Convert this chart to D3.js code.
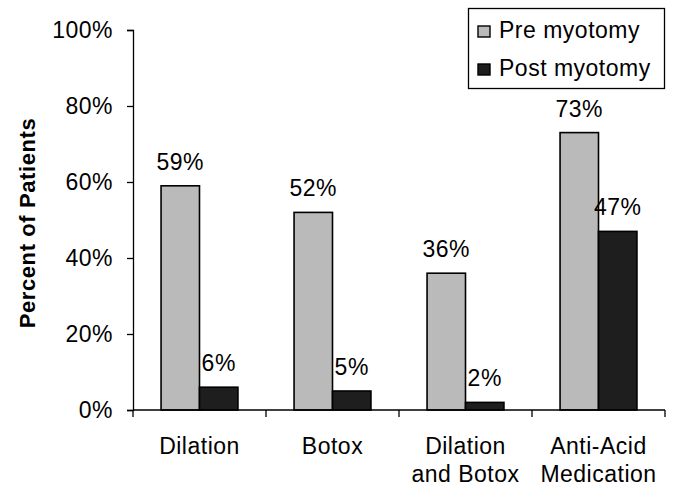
<!DOCTYPE html>
<html>
<head>
<meta charset="utf-8">
<script src="https://cdn.jsdelivr.net/npm/d3@7"></script>
<style>
  html, body { margin: 0; padding: 0; background: #fff; }
  svg { display: block; font-family: "Liberation Sans", Arial, sans-serif; }
  text { letter-spacing: 0.5px; }
</style>
</head>
<body>
<svg id="chart" width="673" height="489"></svg>
<script>
// Treatments (category labels, split into lines)
const categories = [
  ["Dilation"],
  ["Botox"],
  ["Dilation", "and Botox"],
  ["Anti-Acid", "Medication"]
];
const seriesNames = ["Pre myotomy", "Post myotomy"];
const preValues = [59, 52, 36, 73];
const postValues = [6, 5, 2, 47];
const yTicks = [0, 20, 40, 60, 80, 100];

const svg = d3.select("#chart");
const plot = { left: 133, right: 665, top: 30, bottom: 410 };
const colors = ["#bababa", "#1e1e1e"];
const fontSize = 23;

const x0 = d3.scaleBand()
  .domain(d3.range(categories.length))
  .range([plot.left, plot.right])
  .paddingInner(0)
  .paddingOuter(0);

const x1 = d3.scaleBand()
  .domain([0, 1])
  .range([0, x0.bandwidth()])
  .paddingInner(0)
  .paddingOuter(0.73);

const y = d3.scaleLinear().domain([0, 100]).range([plot.bottom, plot.top]);

// Y axis
const yAxis = svg.append("g")
  .attr("transform", `translate(${plot.left},0)`)
  .call(d3.axisLeft(y).tickValues(yTicks).tickFormat(d => d + "%").tickSize(6).tickPadding(14));
yAxis.select(".domain").attr("stroke", "#000").attr("stroke-width", 1.3);
yAxis.selectAll(".tick line").attr("stroke", "#000").attr("stroke-width", 1.3);
yAxis.selectAll(".tick text").attr("font-size", fontSize).attr("fill", "#000")
  .attr("font-family", "Liberation Sans, Arial, sans-serif");

// Y axis title
svg.append("text")
  .attr("transform", `translate(27,${(plot.top + plot.bottom) / 2 + 3}) rotate(-90)`)
  .attr("text-anchor", "middle")
  .attr("dominant-baseline", "central")
  .attr("font-size", 22)
  .attr("font-weight", "bold")
  .style("letter-spacing", "0.6px")
  .text("Percent of Patients");

// Bars
const groups = svg.append("g").selectAll("g")
  .data(categories.map((c, i) => ({ i, vals: [preValues[i], postValues[i]] })))
  .join("g")
  .attr("transform", d => `translate(${x0(d.i)},0)`);

groups.selectAll("rect")
  .data(d => d.vals.map((v, s) => ({ v, s })))
  .join("rect")
  .attr("x", d => x1(d.s))
  .attr("y", d => y(d.v))
  .attr("width", x1.bandwidth())
  .attr("height", d => y(0) - y(d.v))
  .attr("fill", d => colors[d.s])
  .attr("stroke", "#000")
  .attr("stroke-width", 1.6);

groups.selectAll("text.val")
  .data(d => d.vals.map((v, s) => ({ v, s })))
  .join("text")
  .attr("class", "val")
  .attr("x", d => x1(d.s) + x1.bandwidth() / 2)
  .attr("y", d => y(d.v) - 16)
  .attr("text-anchor", "middle")
  .attr("font-size", fontSize)
  .text(d => d.v + "%");

// X axis
const xAxisG = svg.append("g");
xAxisG.append("line")
  .attr("x1", plot.left).attr("x2", plot.right)
  .attr("y1", y(0)).attr("y2", y(0))
  .attr("stroke", "#000").attr("stroke-width", 1.3);
xAxisG.selectAll("line.tick")
  .data(d3.range(categories.length + 1))
  .join("line")
  .attr("class", "tick")
  .attr("x1", i => i < categories.length ? x0(i) : plot.right)
  .attr("x2", i => i < categories.length ? x0(i) : plot.right)
  .attr("y1", y(0)).attr("y2", y(0) + 7)
  .attr("stroke", "#000").attr("stroke-width", 1.3);

const catLabels = xAxisG.selectAll("text.cat")
  .data(categories.map((c, i) => ({ c, i })))
  .join("text")
  .attr("class", "cat")
  .attr("text-anchor", "middle")
  .attr("font-size", fontSize);
catLabels.selectAll("tspan")
  .data(d => d.c.map((line, k) => ({ line, k, i: d.i })))
  .join("tspan")
  .attr("x", d => x0(d.i) + x0.bandwidth() / 2)
  .attr("y", d => 454 + d.k * 28)
  .text(d => d.line);

// Legend
const legend = svg.append("g");
legend.append("rect")
  .attr("x", 468.5).attr("y", 8.5).attr("width", 196).attr("height", 80)
  .attr("fill", "#fff").attr("stroke", "#000").attr("stroke-width", 1.3);
const items = legend.selectAll("g.item")
  .data(seriesNames)
  .join("g")
  .attr("class", "item")
  .attr("transform", (d, i) => `translate(478,${26 + i * 38})`);
items.append("rect")
  .attr("width", 12).attr("height", 11)
  .attr("fill", (d, i) => colors[i])
  .attr("stroke", "#000").attr("stroke-width", 1.4);
items.append("text")
  .attr("x", 21).attr("y", 12)
  .attr("font-size", fontSize)
  .text(d => d);
</script>
</body>
</html>
